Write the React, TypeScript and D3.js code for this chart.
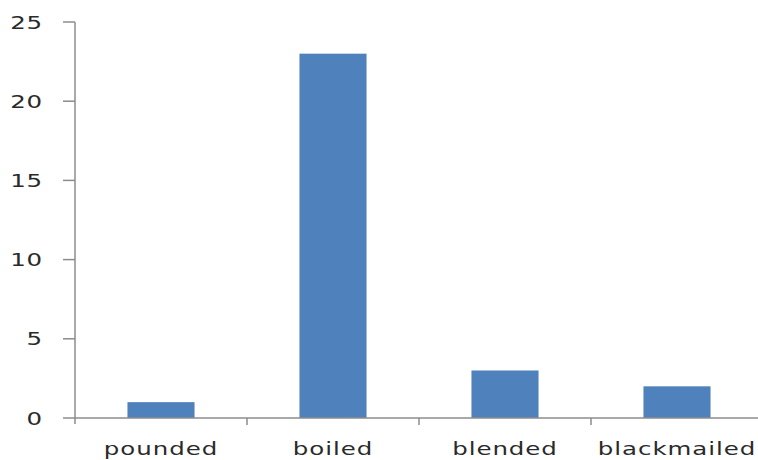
import React from 'react'
import { scaleBand, scaleLinear } from 'd3'

const categories = ['pounded', 'boiled', 'blended', 'blackmailed']
const counts = [1, 23, 3, 2]
const yTicks = [0, 5, 10, 15, 20, 25]

const W = 758, H = 460
const left = 75, right = 763, top = 22, bottom = 418
const stretch = 1.36

const App = () => {
    const x = scaleBand<string>()
        .domain(categories)
        .range([left, right])
        .paddingInner(0.61)
        .paddingOuter(0.305)

    const y = scaleLinear().domain([0, 25]).range([bottom, top])

    const step = x.step()
    const font = { fontFamily: '"DejaVu Sans", Verdana, sans-serif', fontSize: 18, fill: '#2a2a2a' }

    return (
        <svg width={W} height={H} style={{ position: 'absolute', left: 0, top: 0, background: '#fff' }}>
            {/* bars */}
            {categories.map((c, i) => (
                <rect key={c} x={x(c)} y={y(counts[i])} width={x.bandwidth()}
                    height={bottom - y(counts[i])} fill='#4F81BD' />
            ))}

            {/* y axis */}
            <line x1={left} x2={left} y1={top} y2={bottom + 6} stroke='#8c8c8c' strokeWidth={1.5} />
            {yTicks.map(t => (
                <g key={t}>
                    <line x1={left - 12} x2={left} y1={y(t)} y2={y(t)} stroke='#8c8c8c' strokeWidth={1.5} />
                    <text transform={`translate(43,${y(t) + 6.5}) scale(${stretch},1)`} textAnchor='end'
                        letterSpacing={0.6} {...font}>{t}</text>
                </g>
            ))}

            {/* x axis */}
            <line x1={left} x2={W} y1={bottom} y2={bottom} stroke='#8c8c8c' strokeWidth={1.5} />
            {categories.slice(1).map((c, i) => (
                <line key={c} x1={left + step * (i + 1)} x2={left + step * (i + 1)} y1={bottom} y2={bottom + 7}
                    stroke='#8c8c8c' strokeWidth={1.5} />
            ))}
            {categories.map(c => (
                <text key={c} transform={`translate(${x(c)! + x.bandwidth() / 2},455) scale(${stretch},1)`}
                    textAnchor='middle' letterSpacing={0.7} {...font}>{c}</text>
            ))}
        </svg>
    )
}

export default App
